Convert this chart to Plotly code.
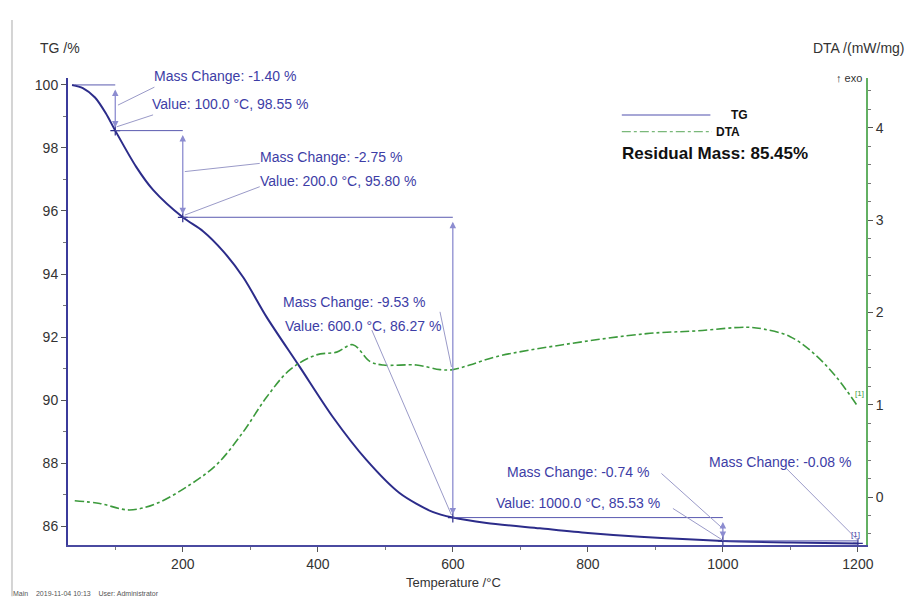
import plotly.graph_objects as go

# ---------------- data ----------------
tg_temp = [36, 52, 70, 86, 100, 131, 156, 200, 230, 260, 290, 324, 373, 422, 472, 521, 570, 600,
           650, 729, 800, 877, 1000, 1100, 1200]
tg_mass = [100.0, 99.9, 99.6, 99.1, 98.55, 97.4, 96.67, 95.80, 95.36, 94.72, 93.88, 92.64, 91.06,
           89.47, 88.1, 87.05, 86.45, 86.27, 86.1, 85.93, 85.78, 85.66, 85.53, 85.48, 85.45]

dta_temp = [40, 77, 121, 161, 210, 250, 289, 324, 359, 398, 428, 452, 477, 497, 546,
            581, 600, 625, 664, 763, 887, 961, 1035, 1060, 1099, 1134, 1168, 1198]
dta_val = [-0.04, -0.07, -0.14, -0.07, 0.13, 0.35, 0.7, 1.08, 1.38, 1.54, 1.57, 1.65,
           1.47, 1.43, 1.43, 1.38, 1.38, 1.43, 1.52, 1.65, 1.77, 1.80, 1.84, 1.82,
           1.74, 1.56, 1.30, 1.0]

step_temp = [100, 200, 600, 1000, 1200]
step_mass = [98.55, 95.80, 86.27, 85.53, 85.45]
mass_change = ["-1.40", "-2.75", "-9.53", "-0.74", "-0.08"]

x_ticks = [200, 400, 600, 800, 1000, 1200]
tg_ticks = [86, 88, 90, 92, 94, 96, 98, 100]
dta_ticks = [0, 1, 2, 3, 4]

# ---------------- style ----------------
BLUE = "#2c2c8a"
ANN = "#3d3da6"
ARW = "#8c8cd0"
GREEN = "#3c9a3c"
GAX = "#63b063"
TXT = "#333333"
FONT = "Liberation Sans, Arial, sans-serif"

fig = go.Figure()

fig.add_trace(go.Scatter(x=tg_temp, y=tg_mass, mode="lines",
                         line=dict(color=BLUE, width=2, shape="spline", smoothing=0.8),
                         name="TG", showlegend=False))
fig.add_trace(go.Scatter(x=dta_temp, y=dta_val, mode="lines", yaxis="y2",
                         line=dict(color=GREEN, width=1.6, dash="dashdot", shape="spline"),
                         name="DTA", showlegend=False))
fig.add_trace(go.Scatter(x=step_temp, y=step_mass, mode="markers", showlegend=False,
                         marker=dict(symbol="cross-thin", size=7, line=dict(color=BLUE, width=1.2))))

shapes = []
annotations = []

# horizontal reference lines
start_pts = [(40, 100.0)] + list(zip(step_temp[:-1], step_mass[:-1]))
for (t0, m0), t1 in zip(start_pts, step_temp):
    shapes.append(dict(type="line", xref="x", yref="y", x0=t0, x1=t1, y0=m0, y1=m0,
                       line=dict(color="#5a5ab0", width=1)))

# vertical double arrows
prev = [100.0] + step_mass[:-2]
for t, m0, m1 in zip(step_temp[:-1], prev, step_mass[:-1]):
    annotations.append(dict(x=t, y=m1, ax=t, ay=m0, xref="x", yref="y", axref="x", ayref="y",
                            text="", showarrow=True, arrowhead=2, arrowside="end+start",
                            arrowsize=1, arrowwidth=1.3, arrowcolor=ARW, standoff=3, startstandoff=3))

# leader lines (text -> marker)
leaders = [
    (158, 99.93, 104, 99.36),
    (156, 99.05, 102, 98.67),
    (314, 97.51, 203, 97.25),
    (314, 96.77, 203, 95.87),
    (581, 92.80, 598, 91.05),
    (480, 92.22, 598, 86.35),
    (909, 87.67, 1000, 85.92),
    (926, 86.56, 1000, 85.55),
    (1094, 87.83, 1200, 85.55),
]
for x0, y0, x1, y1 in leaders:
    shapes.append(dict(type="line", xref="x", yref="y", x0=x0, y0=y0, x1=x1, y1=y1,
                       line=dict(color="#9a9ac8", width=1)))

# annotation texts
texts = [
    (151, 99.39, f"Value: {step_temp[0]:.1f} °C, {step_mass[0]:.2f} %"),
    (311, 97.71, f"Mass Change: {mass_change[1]} %"),
    (311, 96.95, f"Value: {step_temp[1]:.1f} °C, {step_mass[1]:.2f} %"),
    (345, 93.11, f"Mass Change: {mass_change[2]} %"),
    (348, 92.35, f"Value: {step_temp[2]:.1f} °C, {step_mass[2]:.2f} %"),
    (677, 87.71, f"Mass Change: {mass_change[3]} %"),
    (661, 86.73, f"Value: {step_temp[3]:.1f} °C, {step_mass[3]:.2f} %"),
    (976, 88.03, f"Mass Change: {mass_change[4]} %"),
]
for x, y, t in texts:
    annotations.append(dict(x=x, y=y, xref="x", yref="y", text=t, showarrow=False,
                            xanchor="left", yanchor="middle",
                            font=dict(family=FONT, size=14, color=ANN)))
# first label sits above the top of the TG range -> paper y
annotations.append(dict(x=154, y=1.004, xref="x", yref="paper", text=f"Mass Change: {mass_change[0]} %",
                        showarrow=False, xanchor="left", yanchor="middle",
                        font=dict(family=FONT, size=14, color=ANN)))

annotations.append(dict(x=1197, y=85.72, xref="x", yref="y", text="[1]", showarrow=False,
                        font=dict(family=FONT, size=8, color=ANN)))
annotations.append(dict(x=1202, y=1.12, xref="x", yref="y2", text="[1]", showarrow=False,
                        font=dict(family=FONT, size=8, color=GREEN)))

# legend (custom)
shapes.append(dict(type="line", xref="paper", yref="paper", x0=0.694, x1=0.805, y0=0.921, y1=0.921,
                   line=dict(color="#8a8ac8", width=1.5)))
shapes.append(dict(type="line", xref="paper", yref="paper", x0=0.694, x1=0.807, y0=0.885, y1=0.885,
                   line=dict(color="#7ab87a", width=1.2, dash="dashdot")))
annotations.append(dict(x=0.828, y=0.921, xref="paper", yref="paper", text="<b>TG</b>", showarrow=False,
                        xanchor="left", yanchor="middle", font=dict(family=FONT, size=12, color="#111")))
annotations.append(dict(x=0.810, y=0.885, xref="paper", yref="paper", text="<b>DTA</b>", showarrow=False,
                        xanchor="left", yanchor="middle", font=dict(family=FONT, size=12, color="#111")))
annotations.append(dict(x=0.692, y=0.839, xref="paper", yref="paper", text="<b>Residual Mass: 85.45%</b>",
                        showarrow=False, xanchor="left", yanchor="middle",
                        font=dict(family=FONT, size=17, color="#111")))

# axis titles
annotations.append(dict(x=-0.037, y=1.064, xref="paper", yref="paper", text="TG /%", showarrow=False,
                        xanchor="left", yanchor="middle", font=dict(family=FONT, size=14, color=TXT)))
annotations.append(dict(x=1.052, y=1.064, xref="paper", yref="paper", text="DTA /(mW/mg)", showarrow=False,
                        xanchor="right", yanchor="middle", font=dict(family=FONT, size=14, color=TXT)))
annotations.append(dict(x=0.997, y=1.0, xref="paper", yref="paper", text="↑ exo", showarrow=False,
                        xanchor="right", yanchor="middle", font=dict(family=FONT, size=11, color=TXT)))
annotations.append(dict(x=0.483, y=-0.08, xref="paper", yref="paper", text="Temperature /°C", showarrow=False,
                        xanchor="center", yanchor="middle", font=dict(family=FONT, size=13, color=TXT)))
annotations.append(dict(x=-0.071, y=-0.103, xref="paper", yref="paper",
                        text="Main    2019-11-04 10:13    User: Administrator", showarrow=False,
                        xanchor="left", yanchor="middle", font=dict(family=FONT, size=7, color="#555")))

# faint frame line on the left
shapes.append(dict(type="line", xref="paper", yref="paper", x0=-0.0702, x1=-0.0702, y0=1.124, y1=-0.11,
                   line=dict(color="#d4d4d4", width=2)))

fig.update_layout(
    width=908, height=591,
    margin=dict(l=60, r=50, t=70, b=54),
    paper_bgcolor="white", plot_bgcolor="white",
    font=dict(family=FONT, size=12, color=TXT),
    shapes=shapes, annotations=annotations,
    xaxis=dict(range=[30, 1212], tickvals=x_ticks, ticks="outside", ticklen=5, tickcolor="#555",
               showline=True, linecolor="#4a4aa0", linewidth=1.5, showgrid=False, zeroline=False,
               minor=dict(dtick=100, ticks="outside", ticklen=3, tickcolor="#777"),
               tickfont=dict(size=14, color=TXT)),
    yaxis=dict(range=[85.4, 100.22], tickvals=tg_ticks, ticks="outside", ticklen=5, tickcolor="#555",
               showline=True, linecolor="#3b3b9b", linewidth=2, showgrid=False, zeroline=False,
               minor=dict(dtick=1, ticks="outside", ticklen=3, tickcolor="#777"),
               tickfont=dict(size=14, color=TXT)),
    yaxis2=dict(range=[-0.52, 4.54], tickvals=dta_ticks, overlaying="y", side="right",
                ticks="outside", ticklen=5, tickcolor="#555", showline=True, linecolor=GAX, linewidth=2,
                showgrid=False, zeroline=False,
                minor=dict(dtick=0.2, ticks="outside", ticklen=3, tickcolor="#777"),
                tickfont=dict(size=14, color=TXT)),
)

fig.write_html("out.html")
